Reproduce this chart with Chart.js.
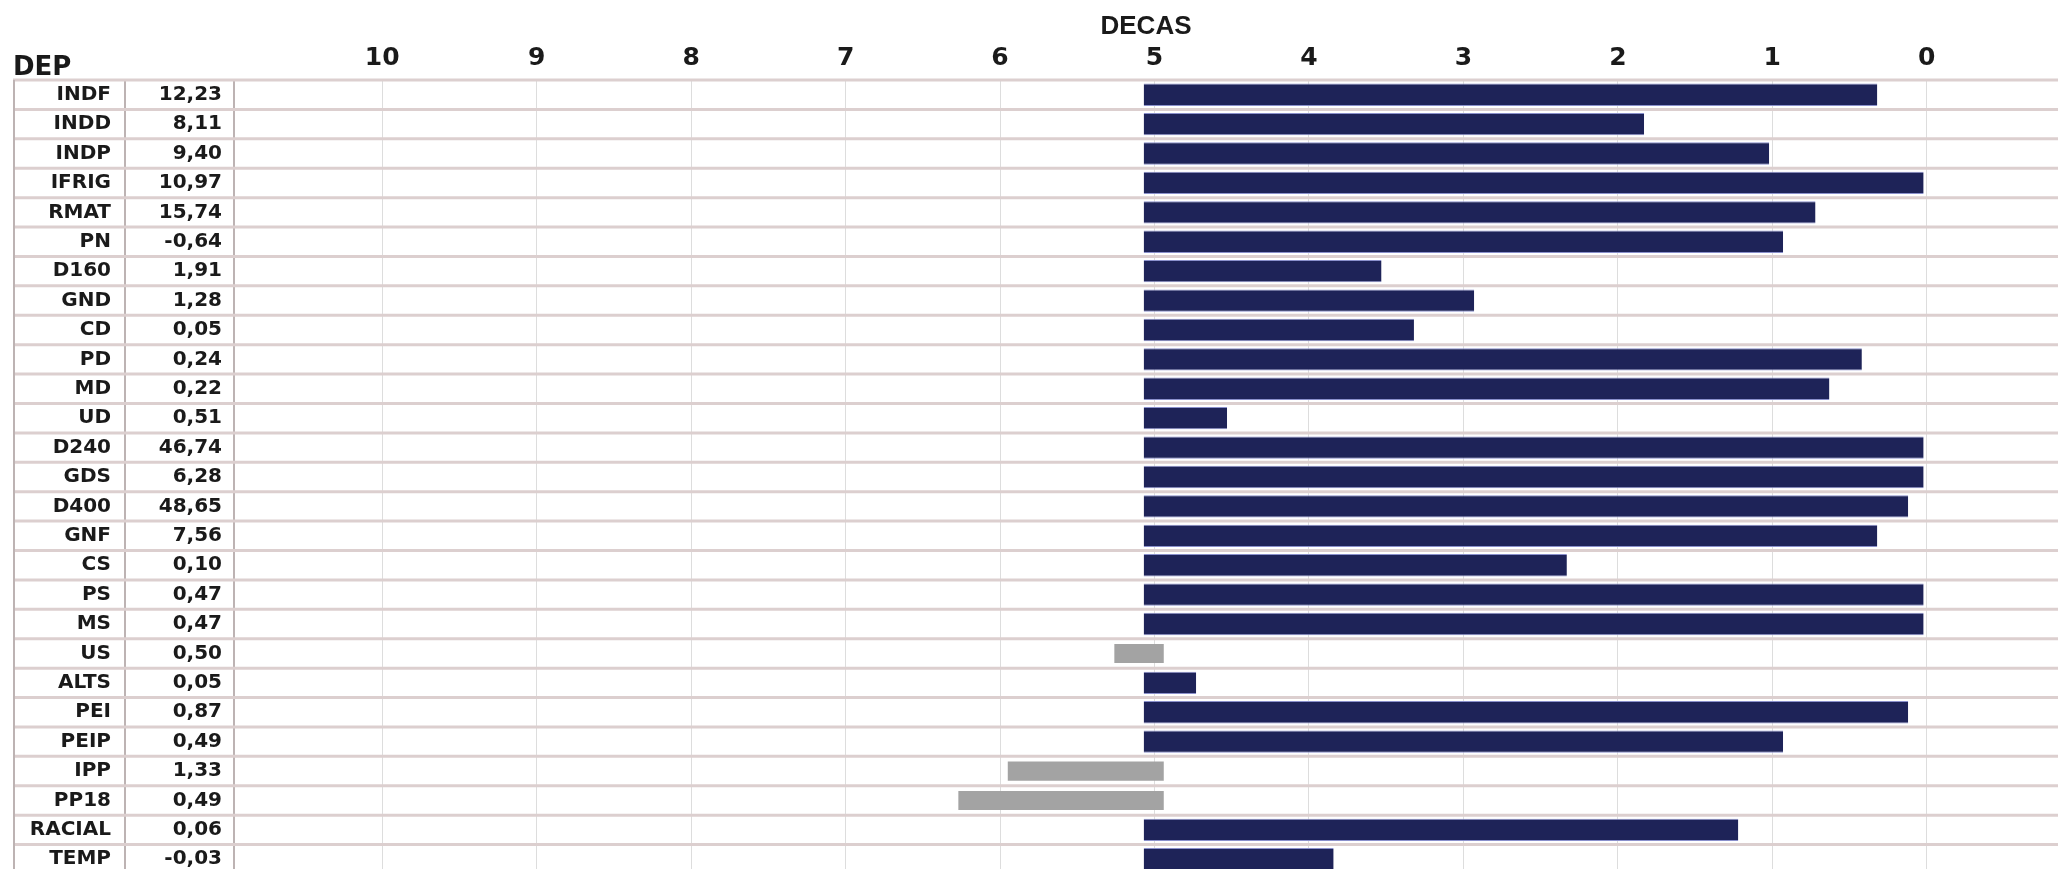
<!DOCTYPE html>
<html>
<head>
<meta charset="utf-8">
<script src="https://cdn.jsdelivr.net/npm/chart.js@4.4.1/dist/chart.umd.min.js"></script>
<style>
  html, body { margin: 0; padding: 0; background: #fff; overflow: hidden; }
  #grafico { display: block; }
</style>
</head>
<body>
<canvas id="grafico" width="2058" height="874"></canvas>
<script>
var deps = ['INDF', 'INDD', 'INDP', 'IFRIG', 'RMAT', 'PN', 'D160', 'GND', 'CD', 'PD', 'MD', 'UD', 'D240',
    'GDS', 'D400', 'GNF', 'CS', 'PS', 'MS', 'US', 'ALTS', 'PEI', 'PEIP', 'IPP', 'PP18', 'RACIAL', 'TEMP'];
var valores = ['12,23', '8,11', '9,40', '10,97', '15,74', '-0,64', '1,91', '1,28', '0,05', '0,24', '0,22', '0,51', '46,74',
    '6,28', '48,65', '7,56', '0,10', '0,47', '0,47', '0,50', '0,05', '0,87', '0,49', '1,33', '0,49', '0,06', '-0,03'];
// fim de cada barra, em decas
var decas = [0.32, 1.83, 1.02, 0.02, 0.72, 0.93, 3.53, 2.93, 3.32, 0.42, 0.63, 4.53, 0.02,
    0.02, 0.12, 0.32, 2.33, 0.02, 0.02, 5.26, 4.73, 0.12, 0.93, 5.95, 6.27, 1.22, 3.84];
// barras cinzas (sentido contrario)
var cinzas = ['US', 'IPP', 'PP18'];
var inicioAzul = 5.07;
var inicioCinza = 4.94;
var decasTicks = [10, 9, 8, 7, 6, 5, 4, 3, 2, 1, 0];

var FONTE = "'DejaVu Sans', sans-serif";

var dadosAzul = deps.map((d, i) => cinzas.includes(d) ? null : [inicioAzul, decas[i]]);
var dadosCinza = deps.map((d, i) => cinzas.includes(d) ? [inicioCinza, decas[i]] : null);

// sem folga em cima/embaixo: a tabela vai ate a borda do canvas
function semFolga(scale) {
    scale.paddingTop = 0;
    scale.paddingBottom = 0;
}

// linhas da tabela (horizontais ate a borda, vertical da esquerda) e o "DEP"
var tabelaPlugin = {
    id: 'tabela',
    beforeDatasetsDraw(chart) {
        const ctx = chart.ctx;
        const y = chart.scales.y;
        const esquerda = chart.scales.yNome.left;
        ctx.save();
        ctx.strokeStyle = '#dccfcf';
        ctx.lineWidth = 3;
        for (let i = 0; i <= deps.length; i++) {
            const py = y.getPixelForValue(i - 0.5);
            ctx.beginPath();
            ctx.moveTo(esquerda, py);
            ctx.lineTo(chart.width, py);
            ctx.stroke();
        }
        ctx.strokeStyle = '#bdb3b3';
        ctx.lineWidth = 2;
        ctx.beginPath();
        ctx.moveTo(esquerda + 1, y.top);
        ctx.lineTo(esquerda + 1, y.bottom);
        ctx.stroke();

        ctx.fillStyle = '#1a1a1a';
        ctx.font = "bold 26px " + FONTE;
        ctx.textAlign = 'left';
        ctx.textBaseline = 'alphabetic';
        ctx.fillText('DEP', esquerda, y.top - 5);
        ctx.restore();
    }
};

var ctxGrafico = document.getElementById('grafico').getContext('2d');
var grafico = new Chart(ctxGrafico, {
    type: 'bar',
    data: {
        labels: deps,
        datasets: [{
            label: 'azul',
            data: dadosAzul,
            backgroundColor: '#1e2358',
            borderColor: '#8a90cc',
            borderWidth: { top: 1, bottom: 1, left: 0, right: 0 },
            borderSkipped: false,
            grouped: false,
            categoryPercentage: 1,
            barPercentage: 0.76,
        }, {
            label: 'cinza',
            data: dadosCinza,
            backgroundColor: '#a3a3a3',
            borderWidth: 0,
            grouped: false,
            categoryPercentage: 1,
            barPercentage: 0.65,
        }]
    },
    options: {
        indexAxis: 'y',
        responsive: false,
        devicePixelRatio: 1,
        animation: false,
        layout: { padding: { left: 13, right: 0, top: 0, bottom: 0 } },
        plugins: {
            legend: { display: false },
            tooltip: { enabled: false },
        },
        scales: {
            x: {
                type: 'linear',
                position: 'top',
                reverse: true,
                min: -0.85,
                max: 10.96,
                z: 1,
                afterBuildTicks: (scale) => {
                    scale.ticks = decasTicks.map(v => ({ value: v }));
                },
                afterFit: (scale) => {
                    scale.height = 80;
                    scale.paddingLeft = 0;
                    scale.paddingRight = 0;
                },
                ticks: {
                    padding: 7,
                    color: '#1a1a1a',
                    font: { family: FONTE, size: 25, weight: 'bold' },
                    callback: (v) => String(v),
                },
                grid: { color: 'rgba(170,170,170,0.4)', lineWidth: 1, drawTicks: false },
                border: { display: false },
                title: {
                    display: true,
                    text: 'DECAS',
                    color: '#1a1a1a',
                    padding: { top: 11, bottom: 0 },
                    font: { family: "'Liberation Sans', Arial, sans-serif", size: 26, weight: 'bold' },
                },
            },
            y: {
                position: 'left',
                weight: 1,
                offset: true,
                afterFit: (scale) => { scale.width = 109; semFolga(scale); },
                ticks: {
                    padding: 12,
                    color: '#1a1a1a',
                    font: { family: FONTE, size: 20, weight: 'bold' },
                    callback: (v, i) => valores[i],
                },
                grid: { display: false, drawTicks: false },
                border: { display: true, color: '#bdb3b3', width: 2 },
            },
            yNome: {
                type: 'category',
                labels: deps,
                position: 'left',
                weight: 2,
                offset: true,
                afterFit: (scale) => { scale.width = 112; semFolga(scale); },
                ticks: {
                    padding: 14,
                    color: '#1a1a1a',
                    font: { family: FONTE, size: 20, weight: 'bold' },
                },
                grid: { display: false, drawTicks: false },
                border: { display: true, color: '#bdb3b3', width: 2 },
            },
        }
    },
    plugins: [tabelaPlugin]
});
</script>
</body>
</html>
